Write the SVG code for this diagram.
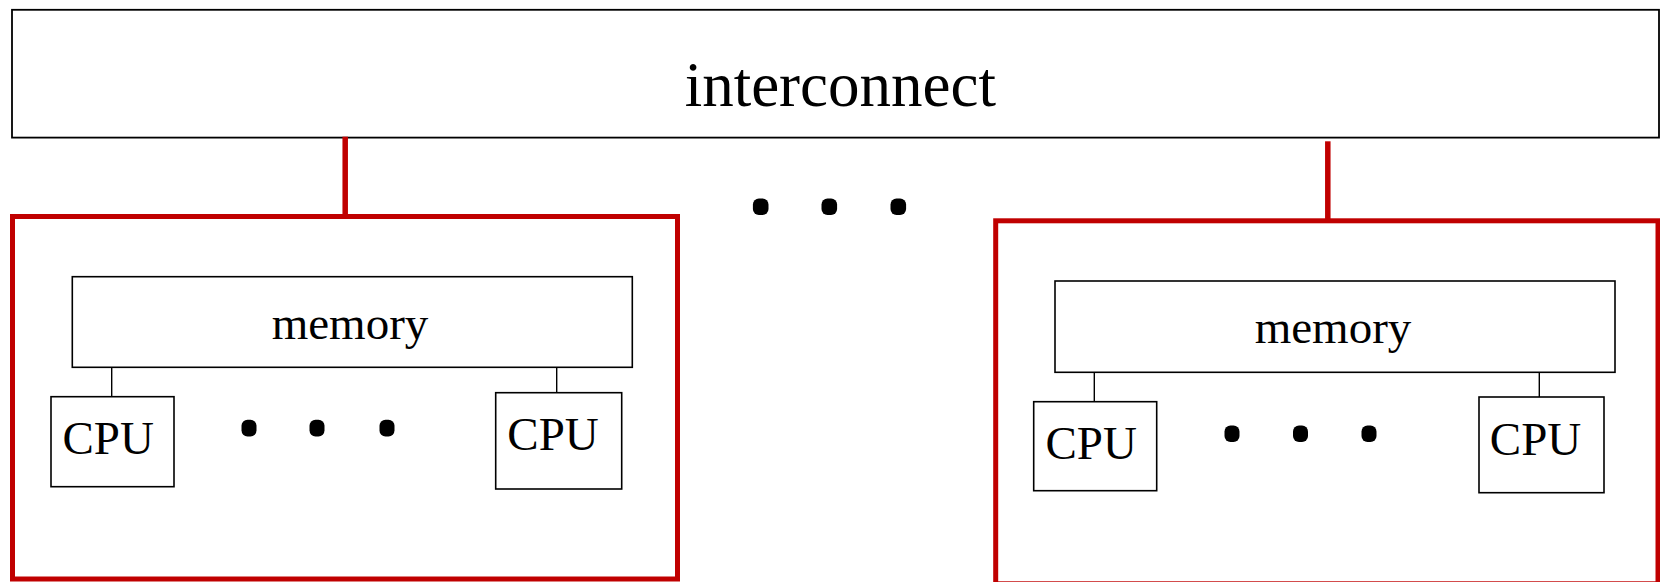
<svg xmlns="http://www.w3.org/2000/svg" width="1660" height="582" viewBox="0 0 1660 582">
<style>
.box{fill:#fff;stroke:#000;stroke-width:1.8}
.node{fill:#fff;stroke:#000;stroke-width:1.6}
.cluster{fill:none;stroke:#c00000;stroke-width:5}
.red{stroke:#c00000;stroke-width:5.5;fill:none}
.thin{stroke:#000;stroke-width:1.4;fill:none}
.dot{fill:#000}
text{font-family:"Liberation Serif","Times New Roman",serif;fill:#000;text-anchor:middle}
.big{font-size:63px}
.mid{font-size:47px}
</style>
<rect width="1660" height="582" fill="#fff"/>

<g id="cluster-left">
  <rect class="cluster" x="12.5" y="216.5" width="665" height="362.5"/>
</g>
<g id="cluster-right">
  <rect class="cluster" x="995.7" y="220.8" width="662.3" height="363"/>
</g>

<g id="interconnect">
  <rect class="box" x="12" y="9.8" width="1647" height="127.8"/>
  <text class="big" x="840.3" y="106">interconnect</text>
</g>

<g id="connectors">
  <line class="red" x1="345.2" y1="136.7" x2="345.2" y2="216.5"/>
  <line class="red" x1="1327.8" y1="141.3" x2="1327.8" y2="220.8"/>
  <line class="thin" x1="111.7" y1="367.3" x2="111.7" y2="396.7"/>
  <line class="thin" x1="556.7" y1="367.3" x2="556.7" y2="399.3"/>
  <line class="thin" x1="1094.3" y1="372.3" x2="1094.3" y2="401.7"/>
  <line class="thin" x1="1539.3" y1="372.3" x2="1539.3" y2="404"/>
</g>

<g id="memory-left">
  <rect class="node" x="72.3" y="276.7" width="560" height="90.6"/>
  <text class="mid" x="350" y="338.7">memory</text>
</g>
<g id="cpu-left-1">
  <rect class="node" x="51" y="396.7" width="123" height="90"/>
  <text class="mid" x="108.2" y="454">CPU</text>
</g>
<g id="cpu-left-2">
  <rect class="node" x="495.7" y="392.7" width="126" height="96.3"/>
  <text class="mid" x="553" y="450">CPU</text>
</g>

<g id="memory-right">
  <rect class="node" x="1055" y="281" width="560" height="91.3"/>
  <text class="mid" x="1333" y="342.7">memory</text>
</g>
<g id="cpu-right-1">
  <rect class="node" x="1033.7" y="401.7" width="123" height="89"/>
  <text class="mid" x="1091.2" y="459.3">CPU</text>
</g>
<g id="cpu-right-2">
  <rect class="node" x="1479" y="397" width="125" height="95.7"/>
  <text class="mid" x="1535.5" y="455">CPU</text>
</g>

<g id="ellipsis-top">
  <rect class="dot" x="752.9" y="198.4" width="15.6" height="16.6" rx="6" ry="6"/>
  <rect class="dot" x="821.5" y="198.4" width="15.6" height="16.6" rx="6" ry="6"/>
  <rect class="dot" x="890.5" y="198.4" width="15.6" height="16.6" rx="6" ry="6"/>
</g>
<g id="ellipsis-left">
  <rect class="dot" x="241.5" y="419.8" width="15" height="16.8" rx="6" ry="6"/>
  <rect class="dot" x="309.5" y="419.8" width="15" height="16.8" rx="6" ry="6"/>
  <rect class="dot" x="379.5" y="419.8" width="15" height="16.8" rx="6" ry="6"/>
</g>
<g id="ellipsis-right">
  <rect class="dot" x="1224.5" y="425.5" width="15" height="16.5" rx="6" ry="6"/>
  <rect class="dot" x="1293" y="425.5" width="15" height="16.5" rx="6" ry="6"/>
  <rect class="dot" x="1361.5" y="425.5" width="15" height="16.5" rx="6" ry="6"/>
</g>
</svg>
